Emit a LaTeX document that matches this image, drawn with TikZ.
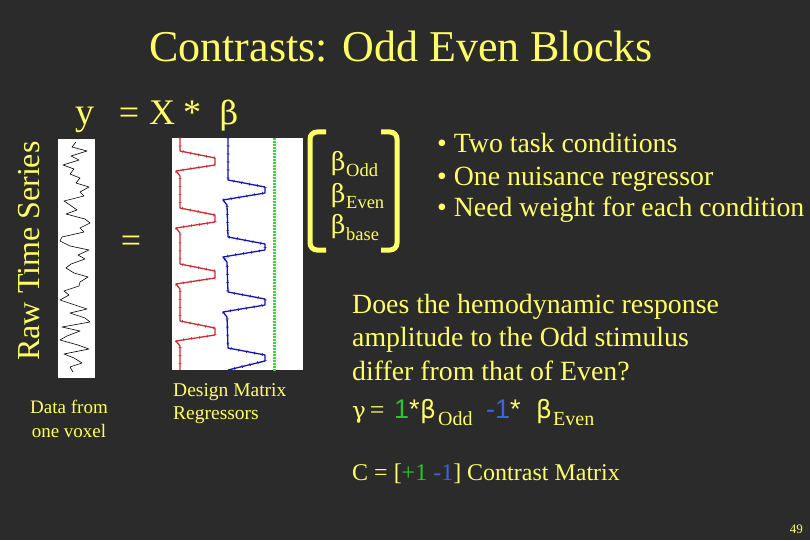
\documentclass[tikz,border=0pt]{standalone}
\usepackage{fontspec}
\setmainfont{Liberation Serif}
\newfontfamily\arialfont{Liberation Sans}
\newfontfamily\greekserif{DejaVu Serif}
\newfontfamily\greeksans{DejaVu Sans}
\usepackage{xcolor}
\usepackage{tikz}
\usetikzlibrary{decorations.pathreplacing}

\definecolor{slidebg}{RGB}{43,43,43}
\definecolor{slideyellow}{RGB}{255,255,102}
\definecolor{oddgreen}{RGB}{40,200,40}
\definecolor{evenblue}{RGB}{60,100,225}
\definecolor{regred}{RGB}{205,45,50}
\definecolor{regblue}{RGB}{20,20,170}
\definecolor{basegreen}{RGB}{50,220,50}

\newcommand{\txtsize}[1]{\fontsize{#1}{#1}\selectfont}

\begin{document}
\begin{tikzpicture}[x=1pt, y=-1pt,
        txt/.style={text=slideyellow, inner sep=0pt, anchor=base west},
        bracket/.style={slideyellow, line width=5pt, rounded corners=7pt},
        regticks/.style={decorate, decoration={ticks, segment length=8pt, amplitude=1.5pt}}]
        \fill[slidebg] (0,0) rectangle (810,540);
        \useasboundingbox (0,0) rectangle (810,540);

        \node[txt, anchor=base] (title) at (401,62) {\txtsize{44}Contrasts: Odd Even Blocks};

        % y = X * beta
        \node[txt, anchor=base] (yvec) at (85,125) {\txtsize{38}y};
        \node[txt, anchor=base] (eqtop) at (129,125) {\txtsize{36}=};
        \node[txt, anchor=base] (xmat) at (162,125) {\txtsize{36}X};
        \node[txt, anchor=base] (star) at (192,125) {\txtsize{36}*};
        \node[txt, anchor=base] (betavec) at (229,125) {\greekserif\txtsize{32}β};

        \node[txt, anchor=center, rotate=90] (rawlabel) at (29,251) {\txtsize{32}Raw Time Series};

        % raw time series
        \fill[white] (58,139) rectangle (95,378);
        \draw[black, line width=0.6pt, line join=round] plot coordinates {
            (76,142) (72,147) (87,151) (71,156) (79,160) (63,165) (74,169) (70,174)
            (80,178) (76,183) (89,187) (80,192) (84,196) (64,201) (70,205) (77,210)
            (66,214) (85,219) (90,223) (80,228) (84,232) (62,237) (60,241) (70,246)
            (89,250) (78,255) (85,259) (71,264) (66,268) (74,273) (88,277) (80,282)
            (79,286) (64,291) (69,295) (60,300) (72,304) (87,309) (70,313) (85,318)
            (90,322) (62,327) (80,331) (67,336) (60,340) (78,345) (89,349) (64,354)
            (74,358) (82,363) (70,367) (73,372)};

        \node[txt, anchor=base] (eqmid) at (131,252) {\txtsize{36}=};

        \node[txt, anchor=base] (datalabel) at (69,413) {\txtsize{19}Data from};
        \node[txt, anchor=base] (voxellabel) at (69,437) {\txtsize{19}one voxel};

        % design matrix
        \fill[white] (172,138) rectangle (303,370);
        \draw[regred, line width=1.3pt, line join=round] (180,138) -- (180,151) -- (215,158) -- (215,165) -- (176,171) -- (180,176)
            -- (180,208) -- (215,215) -- (215,222) -- (176,228) -- (180,233)
            -- (180,264) -- (215,271) -- (215,278) -- (176,284) -- (180,289)
            -- (180,321) -- (215,328) -- (215,335) -- (176,341) -- (180,346) -- (180,370); % odd
        \draw[regred, line width=0.6pt, regticks] (180,138) -- (180,151) -- (215,158) -- (215,165) -- (176,171) -- (180,176)
            -- (180,208) -- (215,215) -- (215,222) -- (176,228) -- (180,233)
            -- (180,264) -- (215,271) -- (215,278) -- (176,284) -- (180,289)
            -- (180,321) -- (215,328) -- (215,335) -- (176,341) -- (180,346) -- (180,370);
        \draw[regblue, line width=1.3pt, line join=round] (228,138) -- (228,180) -- (265,187) -- (265,193) -- (223,200) -- (227,205)
            -- (228,237) -- (265,244) -- (265,250) -- (223,257) -- (227,262)
            -- (228,292) -- (265,299) -- (265,305) -- (223,312) -- (227,317)
            -- (228,348) -- (265,355) -- (265,361) -- (228,370); % even
        \draw[regblue, line width=0.6pt, regticks] (228,138) -- (228,180) -- (265,187) -- (265,193) -- (223,200) -- (227,205)
            -- (228,237) -- (265,244) -- (265,250) -- (223,257) -- (227,262)
            -- (228,292) -- (265,299) -- (265,305) -- (223,312) -- (227,317)
            -- (228,348) -- (265,355) -- (265,361) -- (228,370);
        \draw[basegreen, line width=3pt, dash pattern=on 2pt off 1pt] (274,138) -- (274,372); % base

        \node[txt] (designlabel) at (173,396) {\txtsize{19.5}Design Matrix};
        \node[txt] (regrlabel) at (173,419) {\txtsize{19.5}Regressors};

        % beta vector
        \draw[bracket] (326,132) -- (310,132) -- (310,250) -- (326,250);
        \draw[bracket] (381,132) -- (397,132) -- (397,250) -- (381,250);
        \node[txt] (bodd) at (331,171) {\greekserif\txtsize{25}β};
        \node[txt] (boddsub) at (346,176) {\txtsize{18.5}Odd};
        \node[txt] (beven) at (331,202) {\greekserif\txtsize{25}β};
        \node[txt] (bevensub) at (346,208) {\txtsize{18.5}Even};
        \node[txt] (bbase) at (331,233) {\greekserif\txtsize{25}β};
        \node[txt] (bbasesub) at (346,240) {\txtsize{18.5}base};

        \node[txt] (bullet1) at (437,153) {\txtsize{27.8}• Two task conditions};
        \node[txt] (bullet2) at (437,185) {\txtsize{27.8}• One nuisance regressor};
        \node[txt] (bullet3) at (437,216) {\txtsize{27.8}• Need weight for each condition};

        \node[txt] (question1) at (352,313) {\txtsize{27.8}Does the hemodynamic response};
        \node[txt] (question2) at (352,346) {\txtsize{27.8}amplitude to the Odd stimulus};
        \node[txt] (question3) at (352,380) {\txtsize{27.8}differ from that of Even?};

        % gamma = contrast
        \node[txt] (gamma) at (352,418) {\greekserif\txtsize{23}γ\,{\rmfamily\txtsize{26}=}};
        \node[txt] (oddw) at (394,418) {\arialfont\txtsize{27}{\color{oddgreen}1}*};
        \node[txt] (oddbeta) at (420,418) {\greeksans\txtsize{25}β};
        \node[txt] (oddsub) at (438,425) {\txtsize{20}Odd};
        \node[txt] (evenw) at (486,418) {\arialfont\txtsize{27}{\color{evenblue}-1}*};
        \node[txt] (evenbeta) at (536,418) {\greeksans\txtsize{25}β};
        \node[txt] (evensub) at (553,425) {\txtsize{20}Even};

        \node[txt] (cmat) at (352,480) {\txtsize{24}C = [{\color{oddgreen}+1} {\color{evenblue}-1}] Contrast Matrix};

        \node[txt, anchor=base east] (pagenum) at (803,533) {\txtsize{13}49};
    \end{tikzpicture}
\end{document}
